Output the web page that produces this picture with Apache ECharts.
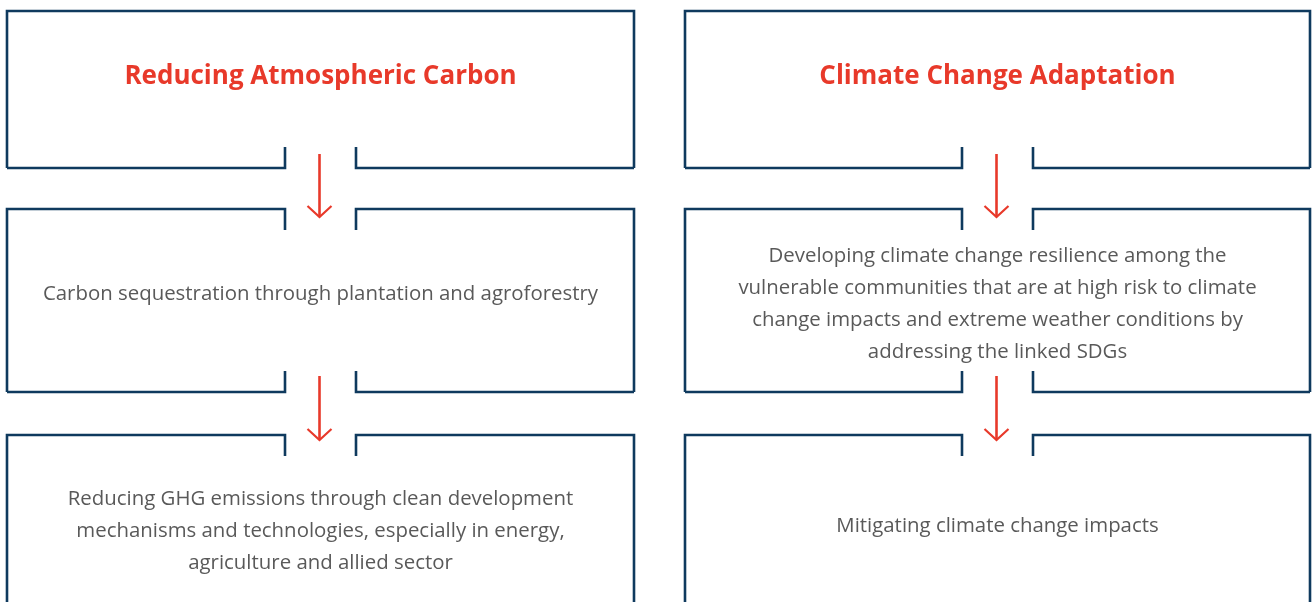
<!DOCTYPE html>
<html>
<head>
<meta charset="utf-8">
<script src="https://cdn.jsdelivr.net/npm/echarts@6/dist/echarts.min.js"></script>
<style>
  html, body { margin: 0; padding: 0; background: #fff; }
  #chart { width: 1312px; height: 602px; }
</style>
</head>
<body>
<div id="chart"></div>
<script>
// column headings
var titles = ['Reducing Atmospheric Carbon', 'Climate Change Adaptation'];
// second row text, one per column
var stepTwo = [
  'Carbon sequestration through plantation and agroforestry',
  'Developing climate change resilience among the\nvulnerable communities that are at high risk to climate\nchange impacts and extreme weather conditions by\naddressing the linked SDGs'
];
// third row text
var stepThree = [
  'Reducing GHG emissions through clean development\nmechanisms and technologies, especially in energy,\nagriculture and allied sector',
  'Mitigating climate change impacts'
];

var navy = '#0f3a5e';
var red = '#e8392a';
var cols = [[7, 634], [685, 1310]];
var rows = [[11, 168], [209, 392], [435, 640]];
var gap = 35.5, tick = 21;

var els = [];

function boxLines(x0, x1, top, bottom, gapTop, gapBottom) {
  var cx = (x0 + x1) / 2;
  var segs = [];
  if (gapTop) {
    segs.push([[cx - gap, top + tick], [cx - gap, top], [x0, top], [x0, bottom]]);
    segs.push([[cx + gap, top + tick], [cx + gap, top], [x1, top], [x1, bottom]]);
  } else {
    segs.push([[x0, bottom], [x0, top], [x1, top], [x1, bottom]]);
  }
  if (gapBottom) {
    segs.push([[x0, bottom], [cx - gap, bottom], [cx - gap, bottom - tick]]);
    segs.push([[x1, bottom], [cx + gap, bottom], [cx + gap, bottom - tick]]);
  }
  segs.forEach(function (pts) {
    els.push({
      type: 'polyline',
      shape: { points: pts },
      style: { stroke: navy, lineWidth: 2.6, fill: null, lineJoin: 'miter' }
    });
  });
}

function arrow(cx, y0, y1) {
  els.push({ type: 'line', shape: { x1: cx, y1: y0, x2: cx, y2: y1 },
    style: { stroke: red, lineWidth: 2.6 } });
  els.push({ type: 'polyline', shape: { points: [[cx - 12, y1 - 11], [cx, y1], [cx + 12, y1 - 11]] },
    style: { stroke: red, lineWidth: 2.2, fill: null } });
}

var texts = [titles, stepTwo, stepThree];
// vertical text centre per row, per column
var textY = [[77, 77], [294, 304], [531, 526]];

cols.forEach(function (c, ci) {
  var cx = (c[0] + c[1]) / 2;
  rows.forEach(function (r, ri) {
    boxLines(c[0], c[1], r[0], r[1], ri > 0, ri < rows.length - 1);
    var isTitle = ri === 0;
    els.push({
      type: 'text',
      x: cx, y: textY[ri][ci],
      style: {
        text: texts[ri][ci],
        align: 'center',
        verticalAlign: 'middle',
        fill: isTitle ? red : '#595959',
        fontFamily: 'Open Sans',
        fontWeight: isTitle ? 'bold' : 'normal',
        fontSize: isTitle ? 26 : 20.4,
        lineHeight: 32
      }
    });
  });
  arrow(cx - 1, 154, 217);
  arrow(cx - 1, 376, 440);
});

var chart = echarts.init(document.getElementById('chart'));
chart.setOption({
  backgroundColor: '#fff',
  graphic: { elements: els }
});
</script>
</body>
</html>
